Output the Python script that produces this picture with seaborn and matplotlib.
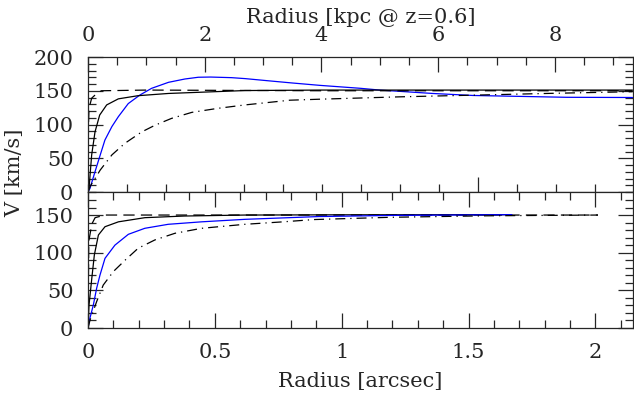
import matplotlib
matplotlib.use("Agg")
import matplotlib.pyplot as plt
from matplotlib.ticker import MultipleLocator, FixedLocator, NullFormatter
import seaborn as sns

# ---------------- data ----------------
# Top panel: radius in kpc
top_blue_r = [0, 0.034, 0.12, 0.21, 0.29, 0.41, 0.52, 0.69, 0.89, 1.09, 1.38, 1.66, 1.89, 2.1,
              2.46, 2.69, 3.06, 3.5, 3.97, 4.67, 5.0, 5.9, 6.6, 8.2, 9.33]
top_blue_v = [0, 5.4, 30, 55, 77, 97, 111.6, 131, 143.7, 153.6, 162.5, 167.4, 170, 170.3,
              169.4, 168, 165, 161.5, 158, 153.6, 151, 146, 143, 140.3, 140]

top_solid_r = [0, 0.017, 0.063, 0.12, 0.2, 0.32, 0.52, 0.86, 1.38, 2.69, 4.0, 9.33]
top_solid_v = [0, 5, 55, 89, 114, 129, 138, 142.7, 146, 150.3, 151, 151]

top_dash_r = [0, 0.008, 0.017, 0.063, 0.15, 0.23, 1.0, 4.0, 7.0, 9.33]
top_dash_v = [0, 100, 124, 139, 146, 150, 151, 150, 150, 150]

top_dashdot_r = [0, 0.034, 0.21, 0.41, 0.63, 0.92, 1.15, 1.43, 1.78, 2.23, 2.69, 3.46, 3.98,
                 5.35, 6.72, 7.86, 9.33]
top_dashdot_v = [0, 8, 32.6, 55, 72, 89, 99, 109, 118, 124, 129, 136, 137.5,
                 141, 143.7, 146, 148.6]

# Bottom panel: radius in arcsec
bot_dash_r = [0, 0.003, 0.015, 0.028, 0.067, 0.2, 1.0, 2.01]
bot_dash_v = [0, 115, 138, 146.5, 150, 150, 150, 150]

bot_solid_r = [0, 0.004, 0.015, 0.025, 0.041, 0.067, 0.12, 0.224, 0.38, 0.618, 1.0, 1.67]
bot_solid_v = [0, 30.5, 66, 97, 123.5, 134.5, 141, 146.5, 148.7, 150, 150.3, 150.5]

bot_blue_r = [0, 0.004, 0.021, 0.034, 0.047, 0.067, 0.106, 0.159, 0.224, 0.316, 0.448, 0.618,
              0.91, 1.2, 1.67]
bot_blue_v = [0, 8.4, 30.5, 52.7, 70, 92.5, 110, 124.4, 132.4, 137.7, 141, 144.3,
              148, 149.5, 150.5]

bot_dashdot_r = [0, 0.008, 0.034, 0.06, 0.1, 0.146, 0.198, 0.264, 0.343, 0.448, 0.618, 0.77,
                 0.89, 1.19, 1.57, 2.01]
bot_dashdot_v = [0, 10.6, 35, 57, 75, 90, 106, 117, 125.8, 132.4, 137.7, 141,
                 144, 147, 149, 150]

kpc_per_arcsec = 6.68
top_xmax_kpc = 9.33
top_xticks = [0, 2, 4, 6, 8]
top_yticks = [0, 50, 100, 150, 200]
bot_xticks = [0, 0.5, 1, 1.5, 2]
bot_xticklabels = ["0", "0.5", "1", "1.5", "2"]
bot_yticks = [0, 50, 100, 150]

# ---------------- style ----------------
sns.set_style("ticks")
plt.rcParams['font.family'] = ['DejaVu Serif']
plt.rcParams['font.size'] = 15
plt.rcParams['axes.linewidth'] = 0.9
plt.rcParams['xtick.labelsize'] = 15
plt.rcParams['ytick.labelsize'] = 15

fig = plt.figure(figsize=(6.34, 3.96), dpi=100)
L = 88 / 634
W = 544.5 / 634
rect_top = [L, (396 - 192) / 396, W, 135 / 396]
ax1 = fig.add_axes(rect_top)
ax2 = fig.add_axes([L, (396 - 328) / 396, W, 136 / 396])

lw = 0.9
dash = (0, (9, 5))
dashdot = (0, (8, 4, 1, 4))

def draw(ax, r, v, color, ls):
    sns.lineplot(x=r, y=v, ax=ax, color=color, lw=lw, linestyle=ls,
                 sort=False, estimator=None)

draw(ax1, top_blue_r, top_blue_v, 'blue', '-')
draw(ax1, top_solid_r, top_solid_v, 'black', '-')
draw(ax1, top_dash_r, top_dash_v, 'black', dash)
draw(ax1, top_dashdot_r, top_dashdot_v, 'black', dashdot)

draw(ax2, bot_dash_r, bot_dash_v, 'black', dash)
draw(ax2, bot_solid_r, bot_solid_v, 'black', '-')
draw(ax2, bot_blue_r, bot_blue_v, 'blue', '-')
draw(ax2, bot_dashdot_r, bot_dashdot_v, 'black', dashdot)

for ax in (ax1, ax2):
    ax.tick_params(which='major', direction='in', length=11, width=0.9)
    ax.tick_params(which='minor', direction='in', length=5.5, width=0.9)
    ax.tick_params(axis='y', which='major', pad=10.5)
    ax.yaxis.set_minor_locator(MultipleLocator(10))
    ax.tick_params(axis='y', which='both', left=True, right=True)

# top panel
ax1.set_xlim(0, top_xmax_kpc)
ax1.set_ylim(0, 200)
ax1.set_xticks(top_xticks)
ax1.set_xticklabels([str(t) for t in top_xticks])
ax1.xaxis.set_minor_locator(MultipleLocator(0.5))
ax1.set_yticks(top_yticks)
ax1.tick_params(axis='x', which='both', top=True, labeltop=True, bottom=False, labelbottom=False)
ax1.tick_params(axis='x', which='major', pad=9)
ax1.xaxis.set_label_position('top')
ax1.set_xlabel("Radius [kpc @ z=0.6]", labelpad=2)
ax1.set_ylabel("")

# arcsec ticks along the bottom edge of the top panel (overlay axes, no frame)
tw = fig.add_axes(rect_top, frameon=False)
tw.patch.set_visible(False)
tw.set_xlim(0, top_xmax_kpc / kpc_per_arcsec)
tw.xaxis.set_major_locator(FixedLocator([1]))
tw.xaxis.set_minor_locator(MultipleLocator(0.1))
tw.xaxis.set_major_formatter(NullFormatter())
tw.tick_params(axis='x', which='both', top=False, labeltop=False, bottom=True, labelbottom=False)
tw.tick_params(which='major', direction='in', length=11, width=0.9)
tw.tick_params(which='minor', direction='in', length=5.5, width=0.9)
tw.tick_params(axis='y', which='both', left=False, right=False, labelleft=False)

# bottom panel
ax2.set_xlim(0, 2.146)
ax2.set_ylim(0, 180.6)
ax2.set_xticks(bot_xticks)
ax2.set_xticklabels(bot_xticklabels)
ax2.xaxis.set_minor_locator(MultipleLocator(0.1))
ax2.set_yticks(bot_yticks)
ax2.tick_params(axis='x', which='both', top=True, bottom=True)
ax2.tick_params(axis='x', which='major', pad=11)
ax2.set_xlabel("Radius [arcsec]", labelpad=7)
ax2.set_ylabel("")

fig.text(15 / 634, 1 - 173 / 396, "V [km/s]", rotation=90, ha='center', va='center',
         fontsize=15)

fig.savefig("out.png", dpi=100)
